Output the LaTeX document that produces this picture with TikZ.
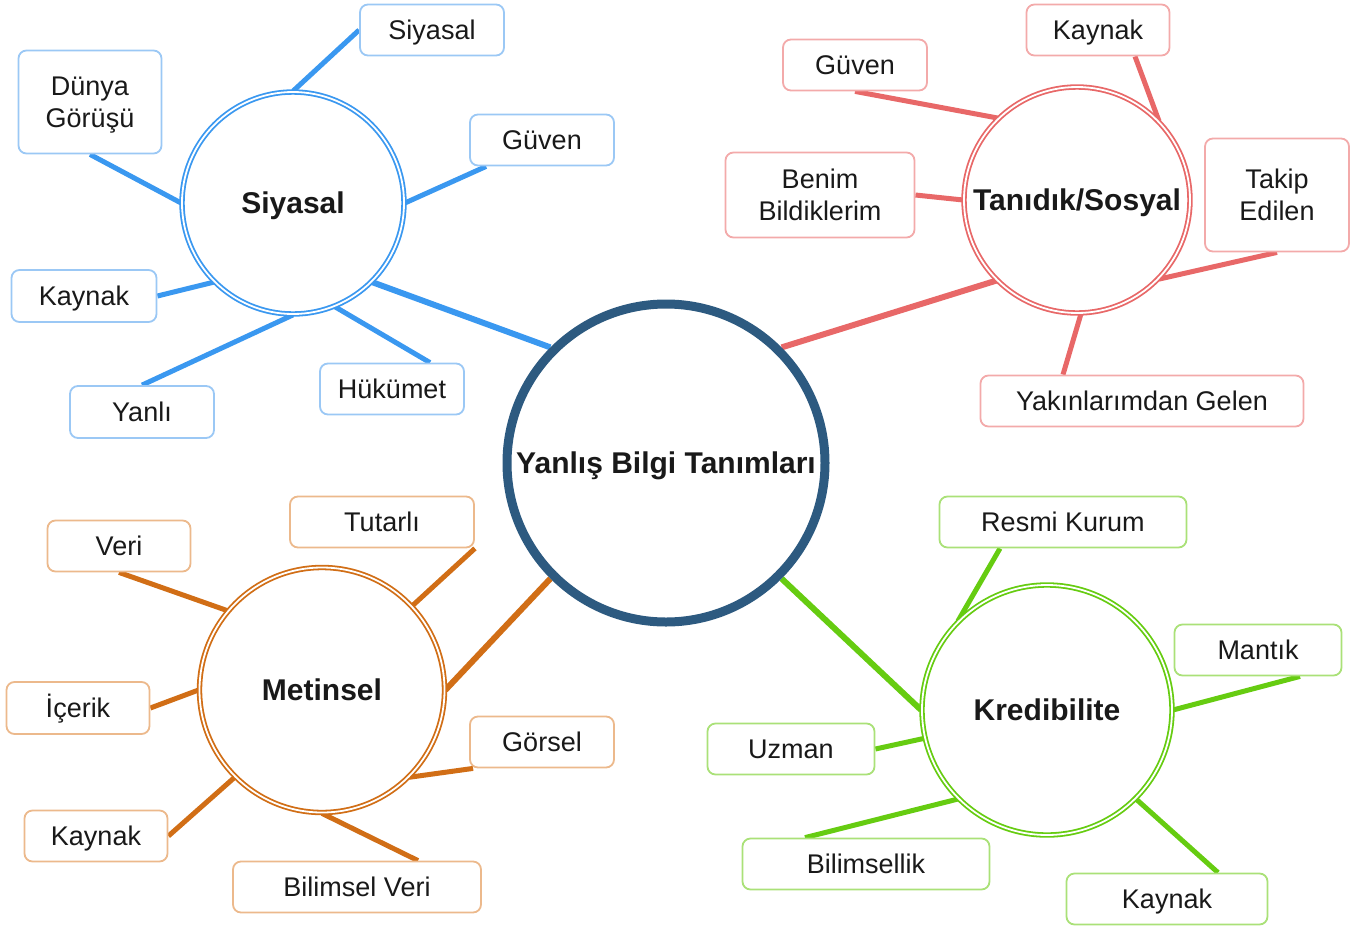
\documentclass[tikz,border=0pt]{standalone}
\usepackage{fontspec}
\setmainfont{Liberation Sans}
\usetikzlibrary{backgrounds}
\definecolor{bline}{RGB}{58,152,240}
\definecolor{bbox}{RGB}{155,200,245}
\definecolor{rline}{RGB}{232,104,104}
\definecolor{rbox}{RGB}{243,170,170}
\definecolor{oline}{RGB}{209,110,22}
\definecolor{obox}{RGB}{236,185,140}
\definecolor{gline}{RGB}{102,204,17}
\definecolor{gbox}{RGB}{170,225,120}
\definecolor{cline}{RGB}{45,90,128}
\definecolor{txt}{RGB}{25,25,25}
\newcommand{\leaffont}{\fontsize{27}{32}\selectfont}
\newcommand{\hubfont}{\fontsize{30}{36}\selectfont\bfseries}
\begin{document}
\begin{tikzpicture}[x=1pt,y=-1pt,
  leaf/.style={draw=#1, line width=1.8pt, rounded corners=8pt, fill=white,
    inner sep=0pt, align=center, font=\leaffont, text=txt},
  one/.style={text height=19.5pt, text depth=0pt},
  hub/.style={circle, draw=#1, double=white, line width=1.8pt,
    double distance=1.8pt, fill=white, inner sep=0pt, font=\hubfont, text=txt,
    text height=21.6pt, text depth=0pt},
  spoke/.style={draw=#1, line width=5pt},
  mainspoke/.style={draw=#1, line width=6pt}]
\useasboundingbox (0,0) rectangle (1355,930);

% central
\node[circle, draw=cline, line width=9pt, fill=white, minimum size=318pt,
  inner sep=0pt, font=\hubfont, text=txt, text height=21.6pt, text depth=0pt]
  (C) at (666,463) {Yanlış Bilgi Tanımları};

% hubs
\node[hub=bline, minimum size=222pt] (S) at (293,203) {Siyasal};
\node[hub=rline, minimum size=226pt] (T) at (1077,200) {Tanıdık/Sosyal};
\node[hub=oline, minimum size=245pt] (M) at (322,690) {Metinsel};
\node[hub=gline, minimum size=250pt] (K) at (1047,710) {Kredibilite};

% blue leaves
\node[leaf=bbox, one, minimum width=144pt, minimum height=51pt] (b1) at (432,30) {Siyasal};
\node[leaf=bbox, text depth=0pt, minimum width=143pt, minimum height=103pt] (b2) at (90,102) {Dünya\\Görüşü};
\node[leaf=bbox, one, minimum width=144pt, minimum height=51pt] (b3) at (542,140) {Güven};
\node[leaf=bbox, one, minimum width=145pt, minimum height=52pt] (b4) at (84,296) {Kaynak};
\node[leaf=bbox, one, minimum width=144pt, minimum height=52pt] (b5) at (142,412) {Yanlı};
\node[leaf=bbox, one, minimum width=144pt, minimum height=51pt] (b6) at (392,389) {Hükümet};

% red leaves
\node[leaf=rbox, one, minimum width=143pt, minimum height=51pt] (r1) at (1098,30) {Kaynak};
\node[leaf=rbox, one, minimum width=144pt, minimum height=51pt] (r2) at (855,65) {Güven};
\node[leaf=rbox, minimum width=189pt, minimum height=85pt] (r3) at (820,195) {Benim\\Bildiklerim};
\node[leaf=rbox, minimum width=144pt, minimum height=113pt] (r4) at (1277,195) {Takip\\Edilen};
\node[leaf=rbox, one, minimum width=323pt, minimum height=51pt] (r5) at (1142,401) {Yakınlarımdan Gelen};

% orange leaves
\node[leaf=obox, one, minimum width=143pt, minimum height=51pt] (o1) at (119,546) {Veri};
\node[leaf=obox, one, minimum width=184pt, minimum height=51pt] (o2) at (382,522) {Tutarlı};
\node[leaf=obox, one, minimum width=143pt, minimum height=52pt] (o3) at (78,708) {İçerik};
\node[leaf=obox, one, minimum width=144pt, minimum height=51pt] (o4) at (542,742) {Görsel};
\node[leaf=obox, one, minimum width=143pt, minimum height=51pt] (o5) at (96,836) {Kaynak};
\node[leaf=obox, one, minimum width=248pt, minimum height=51pt] (o6) at (357,887) {Bilimsel Veri};

% green leaves
\node[leaf=gbox, one, minimum width=247pt, minimum height=51pt] (g1) at (1063,522) {Resmi Kurum};
\node[leaf=gbox, one, minimum width=167pt, minimum height=51pt] (g2) at (1258,650) {Mantık};
\node[leaf=gbox, one, minimum width=167pt, minimum height=51pt] (g3) at (791,749) {Uzman};
\node[leaf=gbox, one, minimum width=247pt, minimum height=51pt] (g4) at (866,864) {Bilimsellik};
\node[leaf=gbox, one, minimum width=201pt, minimum height=51pt] (g5) at (1167,899) {Kaynak};

\begin{pgfonlayer}{background}
% central spokes
\draw[mainspoke=bline] (C.135) -- (S.315);
\draw[mainspoke=rline] (C.45) -- (T.225);
\draw[mainspoke=oline] (C.225) -- (M.0);
\draw[mainspoke=gline] (C.315) -- (K.180);
% blue
\draw[spoke=bline] (b1.west) -- (S.90);
\draw[spoke=bline] (b2.south) -- (S.180);
\draw[spoke=bline] ([xshift=17pt]b3.south west) -- (S.0);
\draw[spoke=bline] (b4.east) -- (S.225);
\draw[spoke=bline] (b5.north) -- (S.270);
\draw[spoke=bline] ([xshift=38pt]b6.north) -- (S.292);
% red
\draw[spoke=rline] ([xshift=37pt]r1.south) -- (T.44);
\draw[spoke=rline] (r2.south) -- (T.134);
\draw[spoke=rline] (r3.east) -- (T.180);
\draw[spoke=rline] (r4.south) -- (T.316);
\draw[spoke=rline] ([xshift=-79pt]r5.north) -- (T.272);
% orange
\draw[spoke=oline] (o1.south) -- (M.140);
\draw[spoke=oline] (o2.south east) -- (M.43);
\draw[spoke=oline] (o3.east) -- (M.180);
\draw[spoke=oline] ([xshift=4pt]o4.south west) -- (M.315);
\draw[spoke=oline] (o5.east) -- (M.225);
\draw[spoke=oline] ([xshift=61pt]o6.north) -- (M.270);
% green
\draw[spoke=gline] ([xshift=-63pt]g1.south) -- (K.135);
\draw[spoke=gline] ([xshift=42pt]g2.south) -- (K.0);
\draw[spoke=gline] (g3.east) -- (K.193);
\draw[spoke=gline] ([xshift=-61pt]g4.north) -- (K.225);
\draw[spoke=gline] ([xshift=51pt]g5.north) -- (K.315);
\end{pgfonlayer}
\end{tikzpicture}
\end{document}
